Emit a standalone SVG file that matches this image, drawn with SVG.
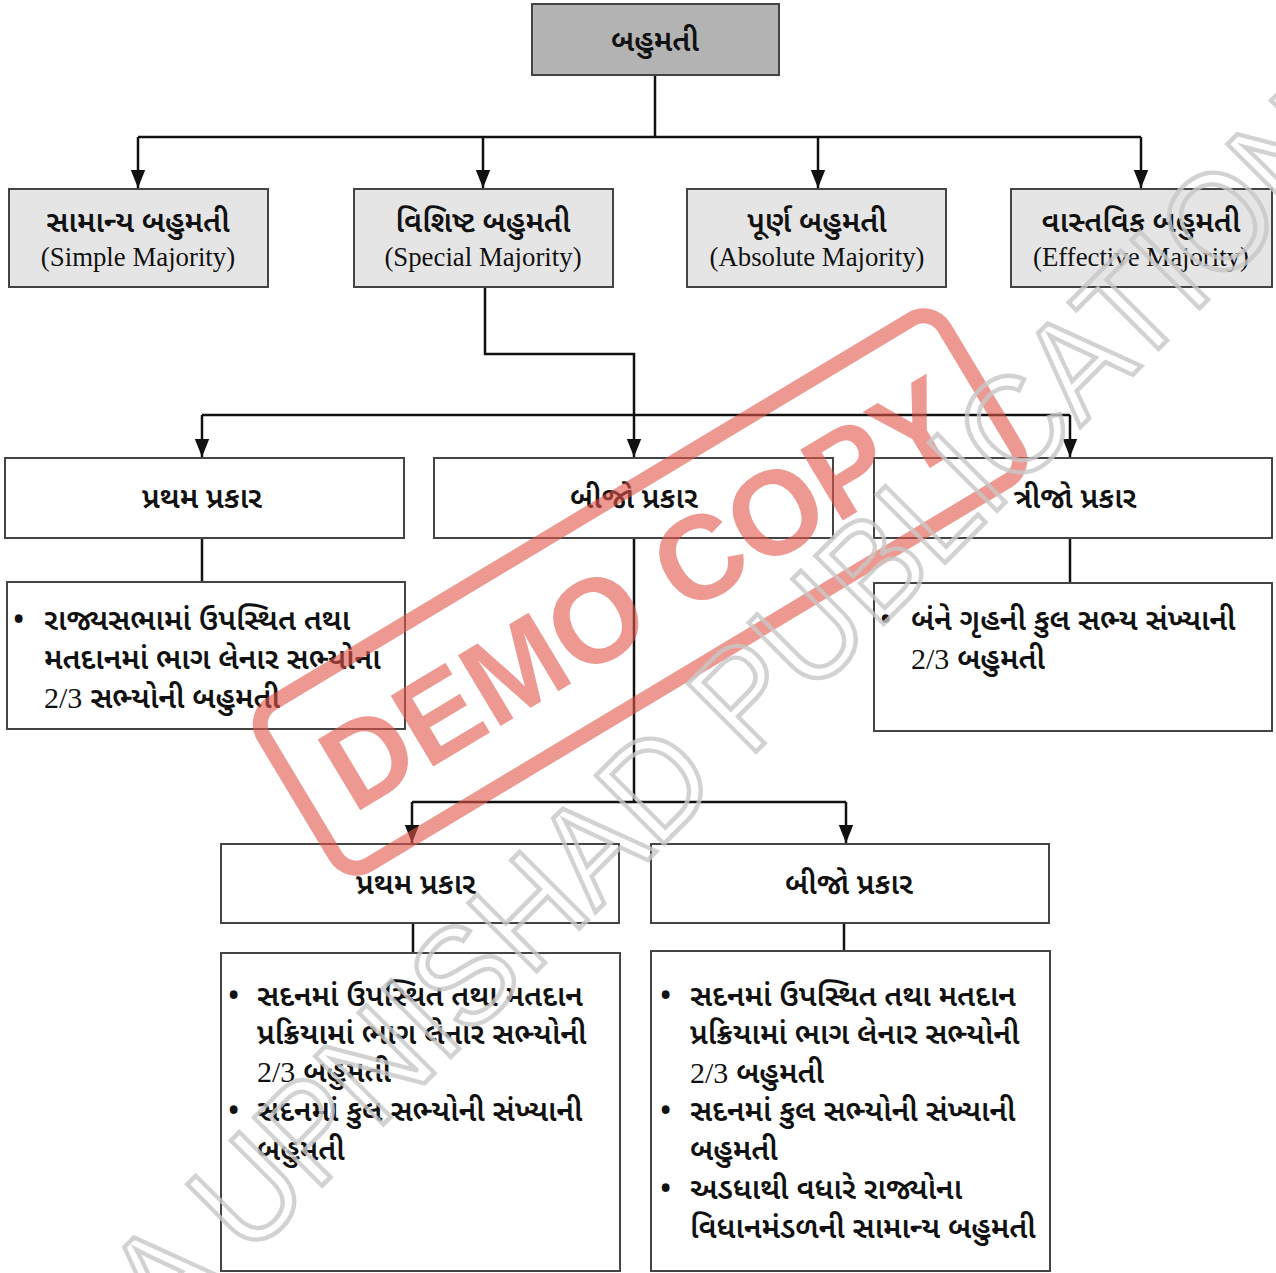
<svg xmlns="http://www.w3.org/2000/svg" width="1276" height="1273" viewBox="0 0 1276 1273">
<style>
.gu{font-family:"Noto Sans Gujarati","Noto Serif Gujarati","Lohit Gujarati","Shruti","Noto Sans",sans-serif;font-size:30px;font-weight:600;fill:#111}
.en{font-family:"Liberation Serif","Times New Roman",serif;font-size:26.8px;fill:#111}
.num{font-family:"Liberation Serif","Times New Roman",serif;font-weight:normal}
.c{text-anchor:middle}
.box{fill:#fff;stroke:#444;stroke-width:2}
.g1{fill:#b3b3b3;stroke:#444;stroke-width:2}
.g2{fill:#e5e5e5;stroke:#444;stroke-width:2}
.con{fill:none;stroke:#111;stroke-width:2.5}
.arr{fill:none;stroke:#111;stroke-width:2.5;marker-end:url(#ah)}
</style>
<defs>
<marker id="ah" markerUnits="userSpaceOnUse" markerWidth="18" markerHeight="22" refX="20" refY="8" orient="auto" viewBox="0 0 20 16">
<path d="M0,0 L20,8 L0,16 z" fill="#111"/>
</marker>
</defs>
<rect width="1276" height="1273" fill="#fff"/>
<g id="connectors">
<path class="con" d="M655,75 V137"/>
<path class="con" d="M138,137 H1141"/>
<path class="arr" d="M138,137 V188"/>
<path class="arr" d="M483,137 V188"/>
<path class="arr" d="M818,137 V188"/>
<path class="arr" d="M1141,137 V188"/>
<path class="arr" d="M485,287 V354 H634 V457"/>
<path class="con" d="M202,415 H1070"/>
<path class="arr" d="M202,415 V457"/>
<path class="arr" d="M1070,415 V457"/>
<path class="con" d="M202,538 V582"/>
<path class="con" d="M1070,538 V583"/>
<path class="con" d="M634,538 V802"/>
<path class="con" d="M412,802 H846"/>
<path class="arr" d="M412,802 V843"/>
<path class="arr" d="M846,802 V843"/>
<path class="con" d="M413,923 V953"/>
<path class="con" d="M844,923 V951"/>
</g>
<g id="n-root">
<rect class="g1" x="532" y="4" width="247" height="71"/>
<text class="gu c" x="655" y="51">બહુમતી</text>
</g>
<g id="n-simple">
<rect class="g2" x="9" y="189" width="259" height="98"/>
<text class="gu c" x="138" y="232">સામાન્ય બહુમતી</text>
<text class="en c" x="138" y="266">(Simple Majority)</text>
</g>
<g id="n-special">
<rect class="g2" x="354" y="189" width="259" height="98"/>
<text class="gu c" x="483" y="232">વિશિષ્ટ બહુમતી</text>
<text class="en c" x="483" y="266">(Special Majority)</text>
</g>
<g id="n-absolute">
<rect class="g2" x="687" y="189" width="259" height="98"/>
<text class="gu c" x="817" y="232">પૂર્ણ બહુમતી</text>
<text class="en c" x="817" y="266">(Absolute Majority)</text>
</g>
<g id="n-effective">
<rect class="g2" x="1011" y="189" width="261" height="98"/>
<text class="gu c" x="1141" y="232">વાસ્તવિક બહુમતી</text>
<text class="en c" x="1141" y="266">(Effective Majority)</text>
</g>
<g id="n-type1">
<rect class="box" x="5" y="458" width="399" height="80"/>
<text class="gu c" x="202" y="508">પ્રથમ પ્રકાર</text>
</g>
<g id="n-type2">
<rect class="box" x="434" y="458" width="399" height="80"/>
<text class="gu c" x="634" y="508">બીજો પ્રકાર</text>
</g>
<g id="n-type3">
<rect class="box" x="874" y="458" width="398" height="80"/>
<text class="gu c" x="1075" y="508">ત્રીજો પ્રકાર</text>
</g>
<g id="n-type1-desc">
<rect class="box" x="7" y="582" width="398" height="147"/>
<text class="gu" x="13" y="630">•</text>
<text class="gu" x="44" y="630">રાજ્યસભામાં ઉપસ્થિત તથા</text>
<text class="gu" x="44" y="669">મતદાનમાં ભાગ લેનાર સભ્યોના</text>
<text class="gu" x="44" y="708"><tspan class="num">2/3</tspan> સભ્યોની બહુમતી</text>
</g>
<g id="n-type3-desc">
<rect class="box" x="874" y="583" width="398" height="148"/>
<text class="gu" x="880" y="630">•</text>
<text class="gu" x="911" y="630">બંને ગૃહની કુલ સભ્ય સંખ્યાની</text>
<text class="gu" x="911" y="669"><tspan class="num">2/3</tspan> બહુમતી</text>
</g>
<g id="n-sub1">
<rect class="box" x="221" y="844" width="398" height="79"/>
<text class="gu c" x="416" y="894">પ્રથમ પ્રકાર</text>
</g>
<g id="n-sub2">
<rect class="box" x="651" y="844" width="398" height="79"/>
<text class="gu c" x="849" y="894">બીજો પ્રકાર</text>
</g>
<g id="n-sub1-desc">
<rect class="box" x="221" y="953" width="399" height="318"/>
<text class="gu" x="228" y="1006">•</text>
<text class="gu" x="257" y="1006">સદનમાં ઉપસ્થિત તથા મતદાન</text>
<text class="gu" x="257" y="1044">પ્રક્રિયામાં ભાગ લેનાર સભ્યોની</text>
<text class="gu" x="257" y="1082"><tspan class="num">2/3</tspan> બહુમતી</text>
<text class="gu" x="228" y="1121">•</text>
<text class="gu" x="257" y="1121">સદનમાં કુલ સભ્યોની સંખ્યાની</text>
<text class="gu" x="257" y="1160">બહુમતી</text>
</g>
<g id="n-sub2-desc">
<rect class="box" x="651" y="951" width="399" height="320"/>
<text class="gu" x="660" y="1006">•</text>
<text class="gu" x="690" y="1006">સદનમાં ઉપસ્થિત તથા મતદાન</text>
<text class="gu" x="690" y="1044">પ્રક્રિયામાં ભાગ લેનાર સભ્યોની</text>
<text class="gu" x="690" y="1083"><tspan class="num">2/3</tspan> બહુમતી</text>
<text class="gu" x="660" y="1121">•</text>
<text class="gu" x="690" y="1121">સદનમાં કુલ સભ્યોની સંખ્યાની</text>
<text class="gu" x="690" y="1160">બહુમતી</text>
<text class="gu" x="660" y="1199">•</text>
<text class="gu" x="690" y="1199">અડધાથી વધારે રાજ્યોના</text>
<text class="gu" x="690" y="1238">વિધાનમંડળની સામાન્ય બહુમતી</text>
</g>
<g id="watermark-stamp" transform="translate(640,592) rotate(-31)" opacity="0.6">
<rect x="-397" y="-94" width="794" height="188" rx="24" fill="none" stroke="#e25548" stroke-width="15"/>
<text x="0" y="43" text-anchor="middle" textLength="720" lengthAdjust="spacingAndGlyphs" font-family="Liberation Sans, Arial, sans-serif" font-weight="bold" font-size="120" fill="#e25548">DEMO COPY</text>
</g>
<g id="watermark-text" transform="translate(725,712) rotate(-45)">
<text x="0" y="50" text-anchor="middle" textLength="1680" lengthAdjust="spacingAndGlyphs" font-family="Liberation Sans, Arial, sans-serif" font-size="140" fill="none" stroke="#c8c8c8" stroke-width="4.5" opacity="0.8">A UPNISHAD PUBLICATION</text>
</g>
</svg>
